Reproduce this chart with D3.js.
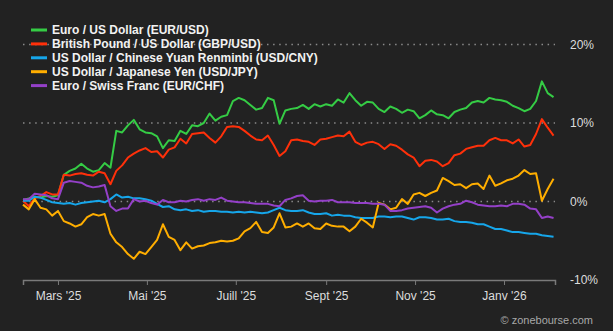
<!DOCTYPE html>
<html>
<head>
<meta charset="utf-8">
<script src="https://cdn.jsdelivr.net/npm/d3@7"></script>
<style>
  html, body { margin: 0; padding: 0; background: #222222; }
  #chart { width: 613px; height: 331px; }
  text { font-family: "Liberation Sans", Arial, sans-serif; }
</style>
</head>
<body>
<div id="chart"></div>
<script>
// Currency pairs, performance in % since start of period (sampled every 4 days)
const seriesNames = [
  'Euro / US Dollar (EUR/USD)',
  'British Pound / US Dollar (GBP/USD)',
  'US Dollar / Chinese Yuan Renminbi (USD/CNY)',
  'US Dollar / Japanese Yen (USD/JPY)',
  'Euro / Swiss Franc (EUR/CHF)'
];
const seriesColors = ['#35cc45', '#ff300a', '#16a6ea', '#ffae00', '#9440c8'];

const eurUsd = [
  0.2,0.4,0.6,0.5,0.7,0.6,0.8,3.4,3.9,4.2,
  4.8,4.2,3.8,4.0,4.9,4.3,9.0,8.8,9.7,10.4,
  9.2,8.8,8.7,8.3,6.8,7.8,7.7,9.0,8.6,9.7,
  9.6,10.0,11.2,10.3,10.8,11.0,12.8,13.2,12.9,12.3,
  11.7,11.9,13.2,12.9,9.9,11.6,11.8,11.9,12.3,11.8,
  12.4,12.1,12.4,12.2,13.0,12.6,13.8,12.9,12.2,12.7,
  12.6,11.8,11.4,12.1,11.8,11.3,11.7,11.5,10.6,11.0,
  11.6,11.1,11.0,10.6,11.4,11.7,11.9,12.6,12.8,12.6,
  13.2,13.0,12.9,12.7,12.2,11.9,11.5,11.8,12.8,15.3,
  13.8,13.3
];
const gbpUsd = [
  0.1,-0.6,0.4,0.7,1.2,0.9,0.9,3.4,3.3,3.5,
  3.6,3.4,3.3,3.8,3.6,2.2,3.9,4.6,5.6,6.1,
  6.5,6.8,6.3,6.4,5.6,6.6,6.9,8.0,7.4,8.6,
  8.7,8.8,8.1,7.5,8.3,9.5,9.6,9.5,9.0,8.4,
  7.9,7.8,8.4,7.2,5.8,6.4,7.8,7.9,7.7,7.6,
  7.2,7.9,8.0,8.2,8.4,8.3,8.9,7.6,7.2,7.5,
  7.6,7.3,6.7,7.3,7.1,6.6,6.0,5.6,4.5,5.2,
  5.3,5.1,4.5,4.9,5.9,6.1,6.7,6.9,7.1,7.1,
  7.8,8.1,7.8,7.8,7.4,7.9,7.0,7.2,8.6,10.5,
  9.4,8.4
];
const usdCny = [
  0.1,0.1,0.6,0.5,0.2,-0.1,-0.2,-0.3,-0.2,-0.4,
  -0.2,-0.1,0.0,0.1,-0.1,0.3,0.9,0.5,0.6,0.4,
  0.4,0.3,0.1,-0.3,-0.7,-0.6,-1.0,-1.1,-1.0,-1.2,
  -1.1,-1.3,-1.2,-1.2,-1.3,-1.3,-1.4,-1.3,-1.4,-1.3,
  -1.4,-1.5,-1.4,-1.1,-0.8,-1.1,-1.2,-1.2,-1.1,-1.4,
  -1.6,-1.6,-1.5,-1.8,-1.7,-1.8,-1.8,-2.0,-2.1,-2.1,
  -2.1,-1.9,-1.9,-2.0,-1.9,-1.9,-2.1,-2.3,-2.0,-2.0,
  -2.1,-2.3,-2.3,-2.2,-2.5,-2.6,-2.6,-2.7,-2.9,-2.9,
  -3.2,-3.5,-3.5,-3.7,-3.9,-3.9,-4.0,-4.1,-4.1,-4.3,
  -4.4,-4.5
];
const usdJpy = [
  -0.4,-1.0,0.3,-0.8,-1.0,-1.8,-1.2,-2.5,-2.8,-3.2,
  -2.9,-2.0,-1.6,-1.8,-1.6,-4.1,-5.2,-5.8,-6.7,-7.3,
  -6.4,-6.7,-5.8,-4.9,-2.9,-4.5,-4.9,-6.2,-5.2,-6.0,
  -5.7,-5.6,-5.3,-5.2,-5.0,-5.1,-5.0,-4.7,-3.8,-3.4,
  -2.6,-3.9,-4.0,-3.3,-1.5,-3.3,-3.2,-2.8,-3.2,-2.8,
  -3.4,-3.5,-2.8,-3.1,-3.2,-3.2,-3.8,-3.2,-2.2,-2.7,
  -3.3,-0.2,-0.4,-1.0,-0.8,0.3,-0.3,0.9,1.1,0.7,
  1.1,1.4,3.0,2.6,2.1,2.2,1.7,2.2,2.3,1.6,
  3.3,2.0,2.3,2.7,2.9,3.3,4.0,3.5,3.6,0.1,
  1.6,2.9
];
const eurChf = [
  0.3,0.3,1.0,0.9,0.8,0.4,0.3,2.4,2.6,2.5,
  2.4,2.0,1.8,1.9,2.1,-0.6,-1.2,-0.9,-0.9,0.3,
  0.0,0.1,-0.2,-0.4,0.2,-0.1,-0.1,0.1,0.0,0.2,
  0.3,0.1,0.3,0.2,0.5,0.1,0.0,-0.1,-0.1,-0.2,
  -0.3,-0.3,-0.3,-0.5,-0.6,0.2,0.4,0.7,0.8,0.1,
  0.0,0.1,0.1,0.2,-0.1,-0.1,-0.1,-0.2,-0.2,-0.2,
  -0.3,-0.3,-0.4,-1.2,-1.2,-1.1,-0.9,-0.8,-0.7,-0.6,
  -0.8,-1.4,-0.9,-0.6,-0.4,-0.3,0.1,-0.1,-0.4,-0.5,
  -0.6,-0.6,-0.5,-0.6,-0.3,-0.3,-0.4,-0.9,-1.0,-2.1,
  -1.9,-2.1
];
const allSeries = [eurUsd, gbpUsd, usdCny, usdJpy, eurChf];

// Sample dates: every 4 days from the start of the period
const startDate = new Date(2025, 1, 5);
const endDate = new Date(2026, 1, 5);
const dates = eurUsd.map((_, i) => d3.timeDay.offset(startDate, i * 4));

// Axis ticks
const xTickDates = [new Date(2025, 2, 1), new Date(2025, 4, 1), new Date(2025, 6, 1),
                    new Date(2025, 8, 1), new Date(2025, 10, 1), new Date(2026, 0, 1)];
const xTickLabels = ["Mars '25", "Mai '25", "Juill '25", "Sept '25", "Nov '25", "Janv '26"];
const yTicks = [-10, 0, 10, 20];
const gridTicks = [0, 10, 20];

// Canvas
const width = 613, height = 331;
const plotLeft = 23, plotRight = 555, plotTop = 44.5, plotBottom = 280;

const svg = d3.select('#chart')
    .append('svg')
    .attr('width', width)
    .attr('height', height);

svg.append('rect')
    .attr('width', width)
    .attr('height', height)
    .attr('fill', '#222222');

const x = d3.scaleTime().domain([startDate, endDate]).range([plotLeft, plotRight]);
const y = d3.scaleLinear().domain([-10, 20]).range([plotBottom, plotTop]);

// Dotted gridlines
svg.append('g')
    .selectAll('line')
    .data(gridTicks)
    .enter()
    .append('line')
    .attr('x1', plotLeft)
    .attr('x2', plotRight)
    .attr('y1', d => y(d))
    .attr('y2', d => y(d))
    .attr('stroke', '#8a8a8a')
    .attr('stroke-width', 1.5)
    .attr('stroke-dasharray', '1.5,4.6');

// Bottom axis
const xAxis = svg.append('g')
    .attr('transform', `translate(0,${plotBottom})`)
    .call(d3.axisBottom(x)
        .tickValues(xTickDates)
        .tickFormat((d, i) => xTickLabels[i])
        .tickSizeOuter(0)
        .tickSize(5)
        .tickPadding(6));
xAxis.select('.domain').attr('stroke', '#7a7a7a').attr('stroke-width', 1.5);
xAxis.selectAll('.tick line').attr('stroke', '#7a7a7a');
xAxis.selectAll('text')
    .attr('fill', '#dddddd')
    .style('font-size', '12px')
    .style('font-family', '"Liberation Sans", Arial, sans-serif');

// Right axis labels
const yAxis = svg.append('g')
    .attr('transform', `translate(${plotRight},0)`)
    .call(d3.axisRight(y)
        .tickValues(yTicks)
        .tickFormat(d => d + '%')
        .tickSize(0)
        .tickPadding(15));
yAxis.select('.domain').remove();
yAxis.selectAll('text')
    .attr('fill', '#dddddd')
    .style('font-size', '12px')
    .style('font-family', '"Liberation Sans", Arial, sans-serif');

// Series lines
const line = d3.line()
    .x((d, i) => x(dates[i]))
    .y(d => y(d));

svg.append('g')
    .selectAll('path')
    .data(allSeries)
    .enter()
    .append('path')
    .attr('d', d => line(d))
    .attr('fill', 'none')
    .attr('stroke', (d, i) => seriesColors[i])
    .attr('stroke-width', 2)
    .attr('stroke-linejoin', 'round');

// Legend
const legend = svg.append('g')
    .selectAll('g')
    .data(seriesNames)
    .enter()
    .append('g')
    .attr('transform', (d, i) => `translate(31,${30 + i * 13.9})`);

legend.append('line')
    .attr('x1', 0)
    .attr('x2', 16)
    .attr('stroke', (d, i) => seriesColors[i])
    .attr('stroke-width', 3);

legend.append('text')
    .attr('x', 21)
    .attr('dy', '0.35em')
    .attr('fill', '#f2f2f2')
    .style('font-size', '12px')
    .style('font-weight', 'bold')
    .text(d => d);

// Source
svg.append('text')
    .attr('x', 593)
    .attr('y', 324)
    .attr('text-anchor', 'end')
    .attr('fill', '#a8a8a8')
    .style('font-size', '11px')
    .text('\u00a9 zonebourse.com');
</script>
</body>
</html>
